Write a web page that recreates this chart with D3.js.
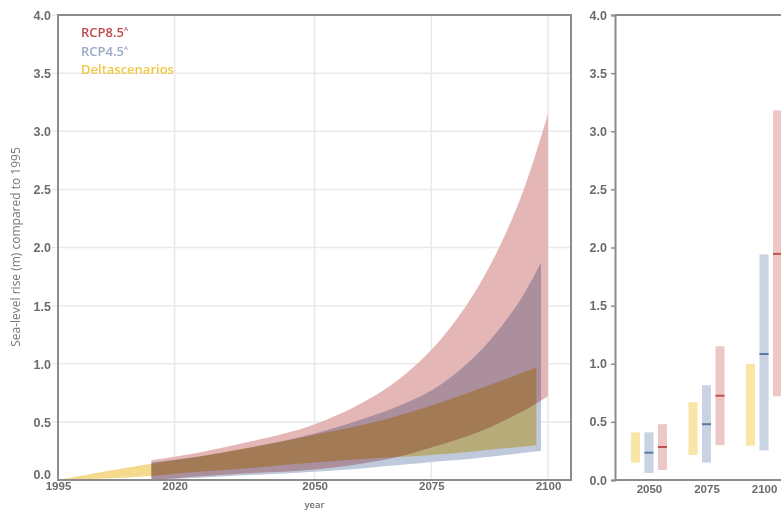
<!DOCTYPE html>
<html>
<head>
<meta charset="utf-8">
<script src="https://cdn.jsdelivr.net/npm/d3@7"></script>
<style>
  body { margin: 0; background: #fff; }
  svg { font-family: "Open Sans", sans-serif; }
  .tick text { fill: #6b6b6b; font-size: 12.5px; font-weight: 600; }
  .xaxis .tick text { font-size: 11.5px; }
  .band { mix-blend-mode: multiply; }
</style>
</head>
<body>
<div id="chart"></div>
<script>
// Data

// left panel: projected bands over time
var rcp85Years = [2015, 2025, 2035, 2050, 2060, 2070, 2075, 2080, 2085, 2090, 2095, 2100];
var rcp85Upper = [0.17, 0.235, 0.32, 0.48, 0.66, 0.93, 1.12, 1.36, 1.66, 2.04, 2.52, 3.15];
var rcp85Lower = [0.0, 0.03, 0.055, 0.09, 0.14, 0.22, 0.28, 0.34, 0.41, 0.5, 0.6, 0.72];

var rcp45Years = [2015, 2025, 2035, 2050, 2060, 2070, 2075, 2080, 2085, 2090, 2095, 2098.5];
var rcp45Upper = [0.15, 0.2, 0.27, 0.4, 0.52, 0.67, 0.77, 0.91, 1.09, 1.32, 1.61, 1.87];
var rcp45Lower = [0.0, 0.02, 0.04, 0.07, 0.1, 0.135, 0.155, 0.17, 0.19, 0.21, 0.235, 0.25];

var deltaYears = [1995, 2015, 2025, 2035, 2050, 2060, 2075, 2085, 2097.5];
var deltaUpper = [0.0, 0.14, 0.2, 0.27, 0.39, 0.47, 0.64, 0.78, 0.97];
var deltaLower = [0.0, 0.035, 0.07, 0.1, 0.15, 0.18, 0.215, 0.25, 0.3];

// right panel: ranges per horizon
var horizons = ["2050", "2075", "2100"];
var deltaLow = [0.15, 0.215, 0.295];
var deltaHigh = [0.41, 0.67, 1.0];
var rcp45Low = [0.06, 0.15, 0.255];
var rcp45High = [0.41, 0.815, 1.94];
var rcp45Mid = [0.235, 0.48, 1.084];
var rcp85Low = [0.086, 0.30, 0.72];
var rcp85High = [0.48, 1.15, 3.18];
var rcp85Mid = [0.284, 0.725, 1.945];

var yTicks = [0, 0.5, 1, 1.5, 2, 2.5, 3, 3.5, 4];
var xTicks = [1995, 2020, 2050, 2075, 2100];

// Colours

var bandColors = { rcp85: "#e4b6b6", rcp45: "#bfc9dc", delta: "#f4da8c" };
var barColors = { rcp85: "#edc6c6", rcp45: "#cad3e2", delta: "#f9e6a6" };
var midColors = { rcp85: "#c0504d", rcp45: "#5b7aa3" };
var legendColors = { rcp85: "#bf4a4a", rcp45: "#98aac8", delta: "#f2c744" };

// Dimensions

var width = 781, height = 511;
var svg = d3.select("#chart").append("svg")
    .attr("width", width)
    .attr("height", height);

var y = d3.scaleLinear().domain([0, 4]).range([480, 15]);

// ---------- Left panel ----------

var x = d3.scaleLinear().domain([1995, 2100]).range([58, 548]);
var leftRight = 571;

// grid
var grid = svg.append("g");
grid.selectAll(".hgrid")
    .data(yTicks.slice(1))
    .enter().append("line")
    .attr("x1", 52).attr("x2", leftRight)
    .attr("y1", function(d) { return y(d); })
    .attr("y2", function(d) { return y(d); })
    .attr("stroke", "#e9e9e9").attr("stroke-width", 1.5);
grid.selectAll(".vgrid")
    .data(xTicks.slice(1))
    .enter().append("line")
    .attr("x1", function(d) { return x(d); })
    .attr("x2", function(d) { return x(d); })
    .attr("y1", 15).attr("y2", 480)
    .attr("stroke", "#e9e9e9").attr("stroke-width", 1.5);

function band(years, lower, upper) {
  var pts = years.map(function(yr, i) { return { t: yr, lo: lower[i], hi: upper[i] }; });
  return d3.area()
      .x(function(d) { return x(d.t); })
      .y0(function(d) { return y(d.lo); })
      .y1(function(d) { return y(d.hi); })
      .curve(d3.curveMonotoneX)(pts);
}

var bands = svg.append("g").style("isolation", "isolate");
bands.append("path").attr("class", "band")
    .attr("d", band(rcp85Years, rcp85Lower, rcp85Upper))
    .attr("fill", bandColors.rcp85);
bands.append("path").attr("class", "band")
    .attr("d", band(rcp45Years, rcp45Lower, rcp45Upper))
    .attr("fill", bandColors.rcp45);
bands.append("path").attr("class", "band")
    .attr("d", band(deltaYears, deltaLower, deltaUpper))
    .attr("fill", bandColors.delta);

// frame
svg.append("rect")
    .attr("x", 58).attr("y", 15)
    .attr("width", leftRight - 58).attr("height", 465)
    .attr("fill", "none").attr("stroke", "#8c8c8c").attr("stroke-width", 2);

var yAxisL = svg.append("g")
    .attr("transform", "translate(58,0)")
    .call(d3.axisLeft(y).tickValues(yTicks).tickFormat(d3.format(".1f")).tickSize(0).tickPadding(7));
yAxisL.select(".domain").remove();
yAxisL.selectAll(".tick text").attr("dy", function(d) { return d === 0 ? "-0.15em" : "0.35em"; });

var xAxisL = svg.append("g")
    .attr("class", "xaxis")
    .attr("transform", "translate(0,480)")
    .call(d3.axisBottom(x).tickValues(xTicks).tickFormat(d3.format("d")).tickSize(0).tickPadding(2));
xAxisL.select(".domain").remove();

svg.append("text")
    .attr("transform", "translate(20,247) rotate(-90)")
    .attr("text-anchor", "middle")
    .attr("fill", "#777")
    .style("font-size", "12px")
    .text("Sea-level rise (m) compared to 1995");

svg.append("text")
    .attr("x", (58 + leftRight) / 2).attr("y", 508)
    .attr("text-anchor", "middle")
    .attr("fill", "#6b6b6b")
    .style("font-size", "9.5px").style("font-weight", 600)
    .text("year");

// legend
var legendItems = [
  { label: "RCP8.5", sup: "A", color: legendColors.rcp85 },
  { label: "RCP4.5", sup: "A", color: legendColors.rcp45 },
  { label: "Deltascenarios", sup: "", color: legendColors.delta }
];
var legend = svg.append("g").attr("transform", "translate(81,37)");
legend.selectAll("text")
    .data(legendItems)
    .enter().append("text")
    .attr("y", function(d, i) { return i * 18.5; })
    .attr("fill", function(d) { return d.color; })
    .style("font-size", "13px").style("font-weight", 600)
    .each(function(d) {
      var t = d3.select(this);
      t.append("tspan").text(d.label);
      if (d.sup) t.append("tspan").attr("dy", "-6").style("font-size", "6px").text(d.sup);
    });

// ---------- Right panel ----------

var px = d3.scalePoint().domain(horizons).range([615, 798]).padding(0.59);
var inner = d3.scaleBand().domain(["delta", "rcp45", "rcp85"]).range([-22.5, 22.5]).padding(0.33);

svg.append("line")
    .attr("x1", 615).attr("x2", width).attr("y1", 15).attr("y2", 15)
    .attr("stroke", "#8c8c8c").attr("stroke-width", 2);

var barData = [];
horizons.forEach(function(h, i) {
  barData.push({ h: h, s: "delta", lo: deltaLow[i], hi: deltaHigh[i], mid: null });
  barData.push({ h: h, s: "rcp45", lo: rcp45Low[i], hi: rcp45High[i], mid: rcp45Mid[i] });
  barData.push({ h: h, s: "rcp85", lo: rcp85Low[i], hi: rcp85High[i], mid: rcp85Mid[i] });
});

var bars = svg.append("g");
bars.selectAll("rect")
    .data(barData)
    .enter().append("rect")
    .attr("x", function(d) { return px(d.h) + inner(d.s); })
    .attr("width", inner.bandwidth())
    .attr("y", function(d) { return y(d.hi); })
    .attr("height", function(d) { return y(d.lo) - y(d.hi); })
    .attr("fill", function(d) { return barColors[d.s]; });

bars.selectAll("line")
    .data(barData.filter(function(d) { return d.mid !== null; }))
    .enter().append("line")
    .attr("x1", function(d) { return px(d.h) + inner(d.s); })
    .attr("x2", function(d) { return px(d.h) + inner(d.s) + inner.bandwidth(); })
    .attr("y1", function(d) { return y(d.mid); })
    .attr("y2", function(d) { return y(d.mid); })
    .attr("stroke", function(d) { return midColors[d.s]; })
    .attr("stroke-width", 2);

var yAxisR = svg.append("g")
    .attr("transform", "translate(615,0)")
    .call(d3.axisLeft(y).tickValues(yTicks).tickFormat(d3.format(".1f")).tickSize(4).tickPadding(4));
yAxisR.select(".domain").attr("stroke", "#8c8c8c").attr("stroke-width", 2);
yAxisR.selectAll(".tick line").attr("stroke", "#8c8c8c").attr("stroke-width", 1.5);

var xAxisR = svg.append("g")
    .attr("class", "xaxis")
    .attr("transform", "translate(0,480)")
    .call(d3.axisBottom(px).tickSize(0).tickPadding(5));
xAxisR.select(".domain").remove();
svg.append("line")
    .attr("x1", 615).attr("x2", width).attr("y1", 480).attr("y2", 480)
    .attr("stroke", "#8c8c8c").attr("stroke-width", 2);
</script>
</body>
</html>
